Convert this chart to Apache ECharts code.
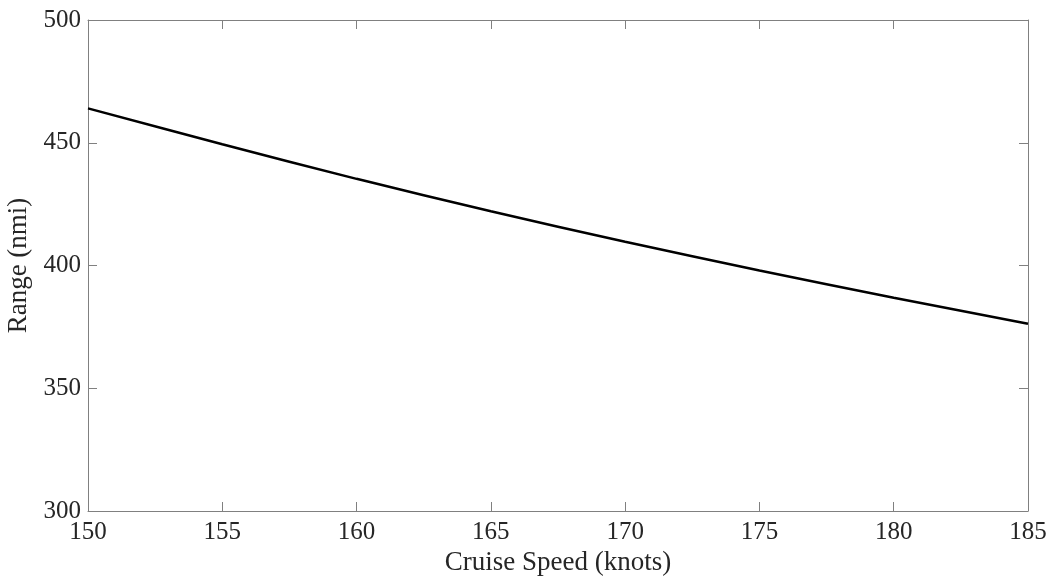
<!DOCTYPE html>
<html>
<head>
<meta charset="utf-8">
<script src="https://cdn.jsdelivr.net/npm/echarts@6/dist/echarts.min.js"></script>
<style>html,body{margin:0;padding:0;background:#fff}#c{width:1052px;height:581px}</style>
</head>
<body>
<div id="c"></div>
<script>
const speeds = [150, 155, 160, 165, 170, 175, 180, 185];
const ranges = [464.0, 449.4, 435.3, 422.1, 409.7, 398.0, 386.9, 376.3];
const xTitle = 'Cruise Speed (knots)';
const yTitle = 'Range (nmi)';

const font = 'Liberation Serif';
const axisColor = '#808080';
const txt = '#262626';

const chart = echarts.init(document.getElementById('c'));
const baseX = {
  type: 'value', min: 150, max: 185, interval: 5,
  axisLine: {show: true, onZero: false, lineStyle: {color: axisColor, width: 1}},
  axisTick: {show: true, inside: true, length: 9, lineStyle: {color: axisColor}},
  splitLine: {show: false}
};
const baseY = {
  type: 'value', min: 300, max: 500, interval: 50,
  axisLine: {show: true, onZero: false, lineStyle: {color: axisColor, width: 1}},
  axisTick: {show: true, inside: true, length: 9, lineStyle: {color: axisColor}},
  splitLine: {show: false}
};
chart.setOption({
  animation: false,
  backgroundColor: '#fff',
  grid: {left: 88, right: 24, top: 20, bottom: 70, containLabel: false, outerBoundsMode: 'none'},
  xAxis: [
    Object.assign({}, baseX, {
      position: 'bottom',
      name: xTitle, nameLocation: 'middle', nameGap: 38,
      nameTextStyle: {fontFamily: font, fontSize: 27, color: txt},
      axisLabel: {fontFamily: font, fontSize: 25, color: txt, margin: 9}
    }),
    Object.assign({}, baseX, {position: 'top', axisLabel: {show: false}})
  ],
  yAxis: [
    Object.assign({}, baseY, {
      position: 'left',
      name: yTitle, nameLocation: 'middle', nameGap: 54, nameRotate: 90,
      nameTextStyle: {fontFamily: font, fontSize: 27, color: txt},
      axisLabel: {fontFamily: font, fontSize: 25, color: txt, margin: 7}
    }),
    Object.assign({}, baseY, {position: 'right', axisLabel: {show: false}})
  ],
  series: [{
    type: 'line',
    data: speeds.map((s, i) => [s, ranges[i]]),
    xAxisIndex: 0, yAxisIndex: 0,
    smooth: 0.3,
    symbol: 'none',
    lineStyle: {color: '#000', width: 2.5}
  }]
});
</script>
</body>
</html>
